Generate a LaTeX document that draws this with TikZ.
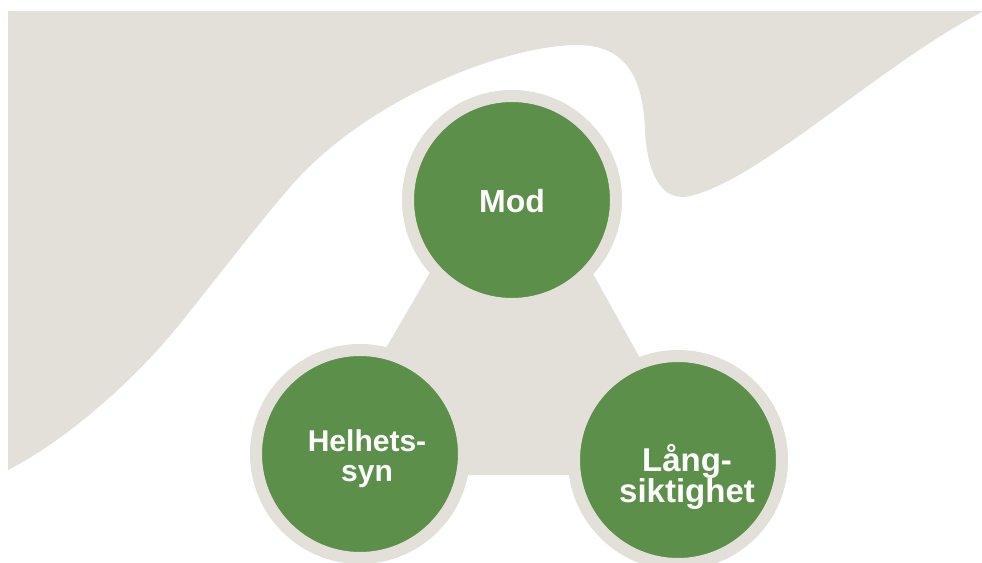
\documentclass[tikz,border=0pt]{standalone}
\usepackage{fontspec}
\setmainfont{Liberation Sans}
\definecolor{beige}{RGB}{227,224,217}
\definecolor{leaf}{RGB}{92,143,74}
\begin{document}
\begin{tikzpicture}[x=1pt,y=-1pt,
  disc/.style={circle,fill=leaf,draw=beige,line width=12pt,minimum size=208pt,inner sep=0pt},
  lbl/.style={text=white,align=center,font=\bfseries}]
\useasboundingbox (0,0) rectangle (982,562);
\fill[white] (0,0) rectangle (982,562);
% background wave
\fill[beige] (8,11) -- (982,11) -- (982,12)
  .. controls (880,65) and (760,180) .. (690,196)
  .. controls (660,203) and (647,170) .. (645,130)
  .. controls (643,70) and (620,45) .. (577,45)
  .. controls (510,45) and (370,95) .. (290,187)
  .. controls (260,222) and (215,280) .. (183,320)
  .. controls (133,383) and (63,442) .. (8,470)
  -- cycle;
% connecting triangle
\fill[beige] (513,130) -- (312,475) -- (705,475) -- cycle;
% circles
\node[disc] (mod) at (512,200) {};
\node[disc] (helhet) at (360,454) {};
\node[disc] (lang) at (678,460) {};
% labels
\node[lbl,font=\bfseries\fontsize{32}{32}\selectfont] (modt) at (512,201) {Mod};
\node[lbl,font=\bfseries\fontsize{30}{30}\selectfont] (helt) at (367,459) {Helhets-\\syn};
\node[lbl,font=\bfseries\fontsize{33}{31}\selectfont] (langt) at (687,477) {Lång-\\siktighet};
\end{tikzpicture}
\end{document}
